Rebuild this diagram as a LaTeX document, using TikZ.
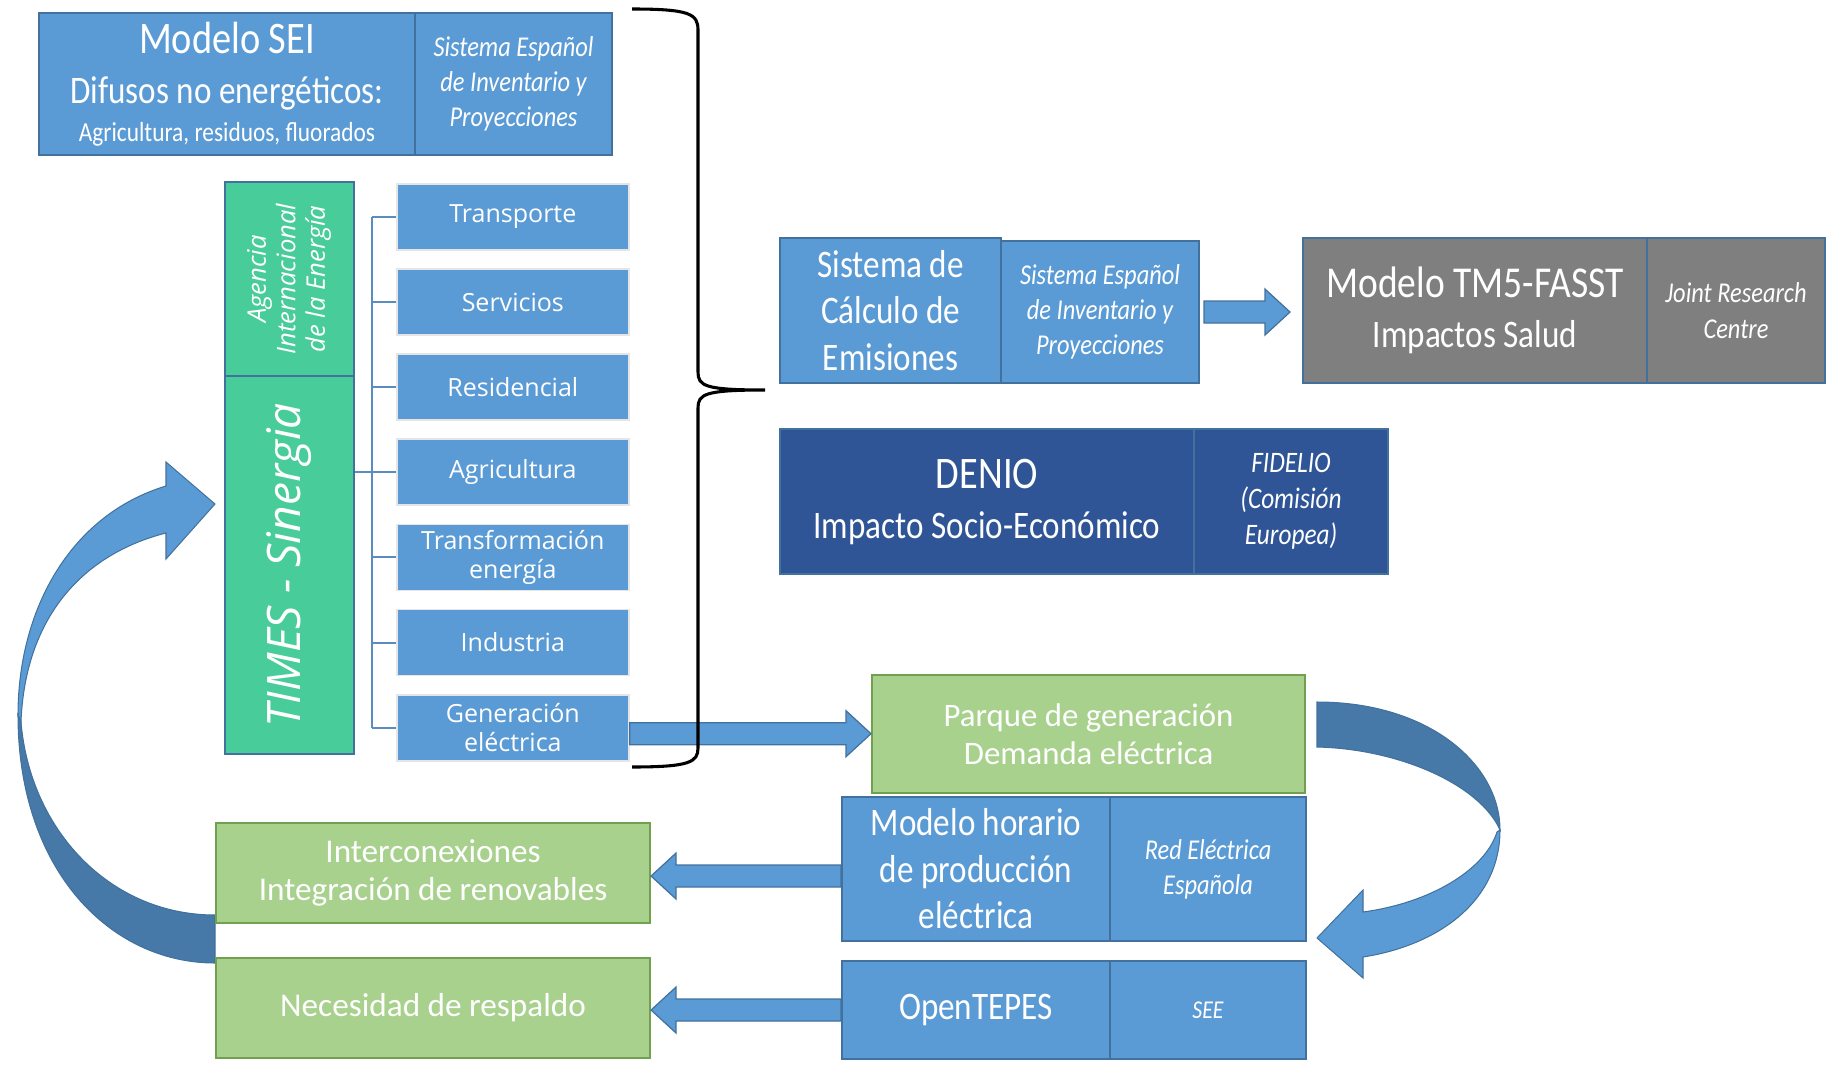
\documentclass[tikz,border=0pt]{standalone}
\usepackage{fontspec}
\usepackage{graphicx}
\setmainfont{Carlito}
\newfontfamily\narrowfont[FakeStretch=0.85]{Carlito}
\newfontfamily\opensans{Open Sans}
\usetikzlibrary{positioning, calc}
\definecolor{boxblue}{HTML}{5B9BD5}
\definecolor{edgeblue}{HTML}{41719C}
\definecolor{timesgreen}{HTML}{48CC99}
\definecolor{lightgreen}{HTML}{A9D18E}
\definecolor{edgegreen}{HTML}{71A14F}
\definecolor{modelgray}{HTML}{7F7F7F}
\definecolor{navyblue}{HTML}{2F5597}
\definecolor{darkarrow}{HTML}{4678A8}
\definecolor{treeblue}{HTML}{5B8CC0}
\newcommand{\px}{0.017128cm}
\tikzset{boxsize/.style 2 args={minimum width=#1*\px, minimum height=#2*\px}}
\tikzstyle{box} = [draw=edgeblue, line width=1pt, fill=boxblue, text=white, align=center, anchor=north west, inner sep=0pt]
\tikzstyle{note} = [box, font=\narrowfont\itshape\fontsize{14}{17}\selectfont]
\tikzstyle{model} = [box, font=\narrowfont\fontsize{19}{22.7}\selectfont]
\tikzstyle{greenbox} = [box, fill=lightgreen, draw=edgegreen, font=\fontsize{16.2}{18.7}\selectfont]
\tikzstyle{timesbox} = [box, fill=timesgreen]
\tikzstyle{sector} = [fill=boxblue, draw=black!10, line width=0.8pt, text=white, align=center, inner sep=0pt, boxsize={232}{66}, font=\opensans\fontsize{12.2}{14.4}\selectfont]
\tikzstyle{branch} = [draw=treeblue, line width=1pt]
\tikzstyle{blockarr} = [fill=boxblue, draw=edgeblue, line width=0.6pt]
\tikzstyle{bracket} = [draw=black, line width=1.5pt]
\newcommand{\blockarrow}[2]{%
  \draw[blockarr] let \p1=(#1), \p2=(#2), \n1={sign(\x2-\x1)} in
    (\x1,{\y1+11*\px}) -- ({\x2-\n1*25*\px},{\y1+11*\px}) -- ({\x2-\n1*25*\px},{\y1+23*\px}) -- (\x2,\y1)
    -- ({\x2-\n1*25*\px},{\y1-23*\px}) -- ({\x2-\n1*25*\px},{\y1-11*\px}) -- (\x1,{\y1-11*\px}) -- cycle;}
\begin{document}
\begin{tikzpicture}[x=\px, y=-\px, node distance=0.30cm]
    \useasboundingbox (0,0) rectangle (1831,1065);
    % curved arrows
    \fill[boxblue, draw=edgeblue, line width=0.5pt] (18,715) .. controls (18,610) and (70,515) .. (166,486) -- (166,462) -- (215,504) -- (166,559) -- (166,533) .. controls (80,555) and (25,620) .. (21,722) -- cycle;
    \fill[darkarrow, draw=edgeblue, line width=0.5pt] (18,715) .. controls (18,870) and (110,963) .. (215,963) -- (215,915) .. controls (110,915) and (30,830) .. (21,722) -- cycle;
    \fill[darkarrow, draw=edgeblue, line width=0.5pt] (1317,702) .. controls (1430,702) and (1500,765) .. (1500,830) .. controls (1480,785) and (1400,749) .. (1317,747) -- cycle;
    \fill[boxblue, draw=edgeblue, line width=0.5pt] (1500,830) .. controls (1500,900) and (1440,945) .. (1363,957) -- (1363,978) -- (1317,938) -- (1363,890) -- (1363,912) .. controls (1430,903) and (1485,870) .. (1497,832) -- cycle;
    % top left
    \node (sei) [box, boxsize={376}{142}, font=\narrowfont\fontsize{19}{24.4}\selectfont] at (38,12)
        {{\fontsize{22}{0}\selectfont Modelo SEI}\\Difusos no energéticos:\\[-5.7pt]{\fontsize{13.4}{0}\selectfont Agricultura, residuos, fluorados}};
    \node (seinote) [note, boxsize={197}{142}] at (414,12) {Sistema Español\\de Inventario y\\Proyecciones};
    \node (aie) [timesbox, boxsize={129}{194}] at (224,181)
        {\rotatebox{90}{\opensans\itshape\fontsize{12.5}{14.4}\selectfont\begin{tabular}{@{}c@{}}Agencia\\Internacional\\de la Energía\end{tabular}}};
    \node (times) [timesbox, boxsize={129}{378}] at (224,375)
        {\rotatebox{90}{\opensans\itshape\fontsize{22.5}{26}\selectfont TIMES - Sinergia}};
    % sectors
    \node (trans) [sector, anchor=north west] at (396,183) {Transporte};
    \node (serv) [sector, below=of trans] {Servicios};
    \node (resid) [sector, below=of serv] {Residencial};
    \node (agri) [sector, below=of resid] {Agricultura};
    \node (transf) [sector, below=of agri] {Transformación\\energía};
    \node (indus) [sector, below=of transf] {Industria};
    \node (gener) [sector, below=of indus] {Generación\\eléctrica};
    \coordinate (trunk) at (372,473);
    \draw[branch] (times.east |- agri) -- (agri.west);
    \draw[branch] (trunk |- trans) -- (trunk |- gener);
    \foreach \s in {trans, serv, resid, agri, transf, indus, gener}
        \draw[branch] (trunk |- \s) -- (\s.west);
    % right side
    \node (sistema) [model, boxsize={221}{145}] at (779,237) {Sistema de\\Cálculo de\\Emisiones};
    \node (sisnote) [note, boxsize={198}{142}] at (1000,240) {Sistema Español\\de Inventario y\\Proyecciones};
    \node (tm5) [model, fill=modelgray, boxsize={344}{145}, font=\narrowfont\fontsize{19}{24.4}\selectfont] at (1302,237)
        {{\fontsize{21.5}{0}\selectfont Modelo TM5-FASST}\\Impactos Salud};
    \node (tm5note) [note, fill=modelgray, boxsize={178}{145}, font=\narrowfont\itshape\fontsize{14}{17.6}\selectfont] at (1646,237) {Joint Research\\Centre};
    \node (denio) [model, fill=navyblue, boxsize={414}{145}, font=\narrowfont\fontsize{19}{24.4}\selectfont] at (779,428)
        {{\fontsize{22}{0}\selectfont DENIO}\\Impacto Socio-Económico};
    \node (denionote) [note, fill=navyblue, boxsize={194}{145}, font=\narrowfont\itshape\fontsize{14.5}{17.6}\selectfont] at (1193,428) {FIDELIO\\(Comisión\\Europea)};
    % electricity chain
    \node (parque) [greenbox, boxsize={433}{118}, font=\fontsize{16}{18.7}\selectfont] at (871,674) {Parque de generación\\Demanda eléctrica};
    \node (horario) [model, boxsize={268}{144}] at (841,796) {Modelo horario\\de producción\\eléctrica};
    \node (horanote) [note, boxsize={196}{144}] at (1109,796) {Red Eléctrica\\Española};
    \node (opent) [model, boxsize={268}{98}] at (841,960) {OpenTEPES};
    \node (opennote) [note, boxsize={196}{98}, font=\narrowfont\itshape\fontsize{12.5}{15}\selectfont] at (1109,960) {SEE};
    \node (inter) [greenbox, boxsize={434}{100}] at (215,822) {Interconexiones\\Integración de renovables};
    \node (neces) [greenbox, boxsize={434}{100}] at (215,957) {Necesidad de respaldo};
    % arrows
    \blockarrow{[xshift=4*\px]sisnote.east}{[xshift=-12*\px]tm5.west}
    \blockarrow{[yshift=-6*\px]gener.east}{parque.west}
    \blockarrow{[yshift=-7*\px]horario.west}{inter.east}
    \blockarrow{opent.west}{neces.east}
    % brace
    \coordinate (bracetop) at (632,9);
    \coordinate (bracebot) at (632,767);
    \coordinate (bracetip) at (765,390);
    \draw[bracket] (bracetop) .. controls (690,9) and (698,14) .. (698,30) -- (698,372) .. controls (698,386) and (705,390) .. (bracetip)
        .. controls (705,390) and (698,394) .. (698,408) -- (698,748) .. controls (698,762) and (690,767) .. (bracebot);
\end{tikzpicture}
\end{document}
